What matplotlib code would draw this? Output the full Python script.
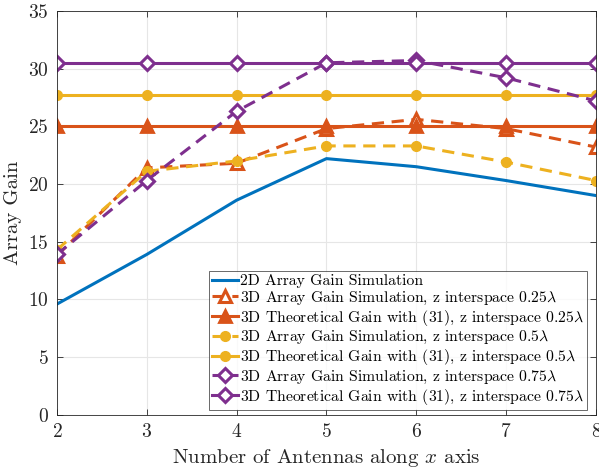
import matplotlib
matplotlib.use("Agg")
import matplotlib.pyplot as plt

plt.rcParams["font.family"] = "serif"
plt.rcParams["font.serif"] = ["cmr10", "DejaVu Serif"]
plt.rcParams["mathtext.fontset"] = "cm"
plt.rcParams["axes.formatter.use_mathtext"] = True
plt.rcParams["axes.unicode_minus"] = False

antennas = [2, 3, 4, 5, 6, 7, 8]
gain_2d = [9.6, 13.9, 18.6, 22.2, 21.5, 20.3, 19.0]
sim_025 = [13.8, 21.4, 21.8, 24.8, 25.6, 24.8, 23.2]
theo_025 = [25.0] * 7
sim_05 = [14.3, 21.1, 22.0, 23.3, 23.3, 21.9, 20.3]
theo_05 = [27.75] * 7
sim_075 = [13.9, 20.3, 26.3, 30.5, 30.7, 29.2, 27.2]
theo_075 = [30.5] * 7

blue = "#0072BD"
orange = "#D95319"
yellow = "#EDB120"
purple = "#7E2F8E"

fig = plt.figure(figsize=(5.99, 4.71), dpi=100)
ax = fig.add_axes([0.095, 0.119, 0.900, 0.858])

lw = 2.2
dash = (0, (4, 2.5))
ax.plot(antennas, gain_2d, color=blue, lw=lw, label="2D Array Gain Simulation")
ax.plot(antennas, sim_025, color=orange, lw=lw, ls=dash, marker="^", ms=9,
        mfc="white", mew=2.2, label=r"3D Array Gain Simulation, z interspace 0.25$\lambda$")
ax.plot(antennas, theo_025, color=orange, lw=lw, marker="^", ms=9, mfc=orange, mew=2,
        label=r"3D Theoretical Gain with (31), z interspace 0.25$\lambda$")
ax.plot(antennas, sim_05, color=yellow, lw=lw, ls=dash, marker="o", ms=7,
        mfc=yellow, label=r"3D Array Gain Simulation, z interspace 0.5$\lambda$")
ax.plot(antennas, theo_05, color=yellow, lw=lw, marker="o", ms=7, mfc=yellow,
        label=r"3D Theoretical Gain with (31), z interspace 0.5$\lambda$")
ax.plot(antennas, sim_075, color=purple, lw=lw, ls=dash, marker="D", ms=7.5,
        mfc="white", mew=2.2, label=r"3D Array Gain Simulation, z interspace 0.75$\lambda$")
ax.plot(antennas, theo_075, color=purple, lw=lw, marker="D", ms=7.5, mfc="white", mew=2.2,
        label=r"3D Theoretical Gain with (31), z interspace 0.75$\lambda$")

ax.set_xlim(2, 8)
ax.set_ylim(0, 35)
ax.set_xticks(antennas)
ax.set_yticks(range(0, 36, 5))
ax.grid(True, color="#e6e6e6", lw=0.8)
ax.set_axisbelow(True)
for s in ax.spines.values():
    s.set_color("#262626")
    s.set_linewidth(0.6)
ax.tick_params(direction="in", labelsize=14, length=4, width=0.6, top=True, right=True,
               colors="#262626", labelcolor="#262626", pad=6)
ax.set_xlabel(r"Number of Antennas along $x$ axis", fontsize=15, color="#262626", labelpad=4)
ax.set_ylabel("Array Gain", fontsize=15, color="#262626", labelpad=4)

leg = ax.legend(loc="lower right", bbox_to_anchor=(0.983, 0.012), borderaxespad=0,
                fontsize=11.3, frameon=True, fancybox=False, edgecolor="#262626",
                borderpad=0.2, labelspacing=0.08, handlelength=1.65, handletextpad=0.1)
leg.get_frame().set_linewidth(0.6)

fig.savefig("out.png", dpi=100)
